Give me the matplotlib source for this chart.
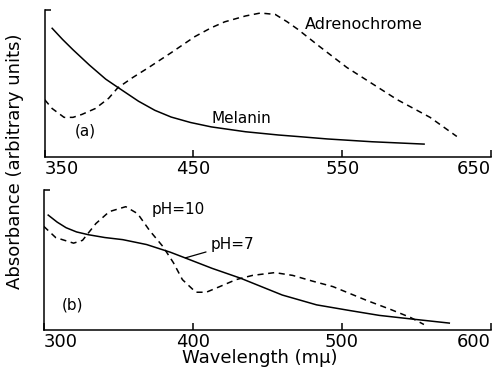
import matplotlib
matplotlib.use('Agg')
import matplotlib.pyplot as plt

plt.rcParams.update({
    'font.family': 'DejaVu Sans',
    'font.size': 12,
    'axes.linewidth': 1.1,
    'axes.spines.top': False,
    'axes.spines.right': False,
    'lines.linewidth': 1.1,
})

# ── Panel (a) ────────────────────────────────────────────────────────────────
mel_wl  = [355, 362, 369, 380, 391, 399, 413, 424, 435, 448, 462, 485, 507, 522, 540, 570, 605]
mel_abs = [0.876, 0.80, 0.73, 0.626, 0.53, 0.475, 0.38, 0.318, 0.272, 0.235, 0.205, 0.172,
           0.15, 0.138, 0.123, 0.104, 0.088]

adr_wl  = [350, 355, 363, 369, 375, 384, 393, 399, 409, 420, 435, 451, 462, 471, 485, 495,
           505, 513, 520, 535, 553, 570, 587, 609, 627]
adr_abs = [0.39, 0.33, 0.27, 0.27, 0.29, 0.33, 0.40, 0.47, 0.54, 0.61, 0.71, 0.82, 0.88, 0.92,
           0.96, 0.98, 0.97, 0.92, 0.87, 0.75, 0.61, 0.50, 0.39, 0.27, 0.14]
xticks_a = [350, 450, 550, 650]

# ── Panel (b) ────────────────────────────────────────────────────────────────
ph7_wl  = [303, 309, 315, 322, 330, 341, 353, 369, 385, 396, 413, 432, 460, 483, 505, 525,
           546, 572]
ph7_abs = [0.82, 0.77, 0.73, 0.70, 0.68, 0.66, 0.645, 0.61, 0.555, 0.51, 0.44, 0.37, 0.25,
           0.18, 0.14, 0.105, 0.08, 0.05]

ph10_wl  = [300, 308, 320, 326, 335, 344, 355, 363, 371, 380, 387, 393, 402, 409, 418, 429,
            440, 455, 467, 480, 494, 517, 532, 546, 555]
ph10_abs = [0.74, 0.66, 0.62, 0.64, 0.76, 0.845, 0.88, 0.83, 0.71, 0.595, 0.48, 0.36, 0.27,
            0.27, 0.31, 0.36, 0.39, 0.41, 0.39, 0.35, 0.31, 0.21, 0.15, 0.09, 0.04]
xticks_b = [300, 400, 500, 600]

fig = plt.figure(figsize=(4.97, 3.73), dpi=100)
ax1 = fig.add_axes([0.09, 0.579, 0.898, 0.394])
ax2 = fig.add_axes([0.088, 0.115, 0.9, 0.376])

ax1.plot(mel_wl, mel_abs, '-', color='black')
ax1.plot(adr_wl, adr_abs, '--', color='black', dashes=(4, 3))
ax1.set_xlim(350, 650)
ax1.set_ylim(0, 1)
ax1.set_xticks(xticks_a)
ax1.text(0.583, 0.90, 'Adrenochrome', transform=ax1.transAxes, fontsize=11.5, va='center')
ax1.text(0.374, 0.265, 'Melanin', transform=ax1.transAxes, fontsize=11, va='center')
ax1.text(0.067, 0.18, '(a)', transform=ax1.transAxes, fontsize=11, va='center')

ax2.plot(ph7_wl, ph7_abs, '-', color='black')
ax2.plot(ph10_wl, ph10_abs, '--', color='black', dashes=(4, 3))
ax2.set_xlim(300, 600)
ax2.set_ylim(0, 1)
ax2.set_xticks(xticks_b)
ax2.text(0.241, 0.857, 'pH=10', transform=ax2.transAxes, fontsize=11, va='center')
ax2.annotate('pH=7', xy=(395, 0.515), xytext=(0.372, 0.61), textcoords='axes fraction',
             fontsize=11, va='center',
             arrowprops=dict(arrowstyle='-', color='black', lw=0.9, shrinkA=1, shrinkB=0))
ax2.text(0.04, 0.18, '(b)', transform=ax2.transAxes, fontsize=11, va='center')

for ax in (ax1, ax2):
    ax.set_yticks([1.0])
    ax.set_yticklabels([])
    ax.tick_params(axis='y', direction='in', length=4, width=1.1)
    ax.tick_params(axis='x', direction='in', length=5, width=1.1, labelsize=13, pad=2)
    labels = ax.get_xticklabels()
    labels[0].set_horizontalalignment('left')
    labels[-1].set_horizontalalignment('right')

fig.text(0.03, 0.568, 'Absorbance (arbitrary units)', rotation=90, fontsize=13,
         ha='center', va='center')
fig.text(0.523, 0.04, 'Wavelength (m\u03bc)', fontsize=13, ha='center', va='center')

fig.savefig('out.png', dpi=100, facecolor='white')
